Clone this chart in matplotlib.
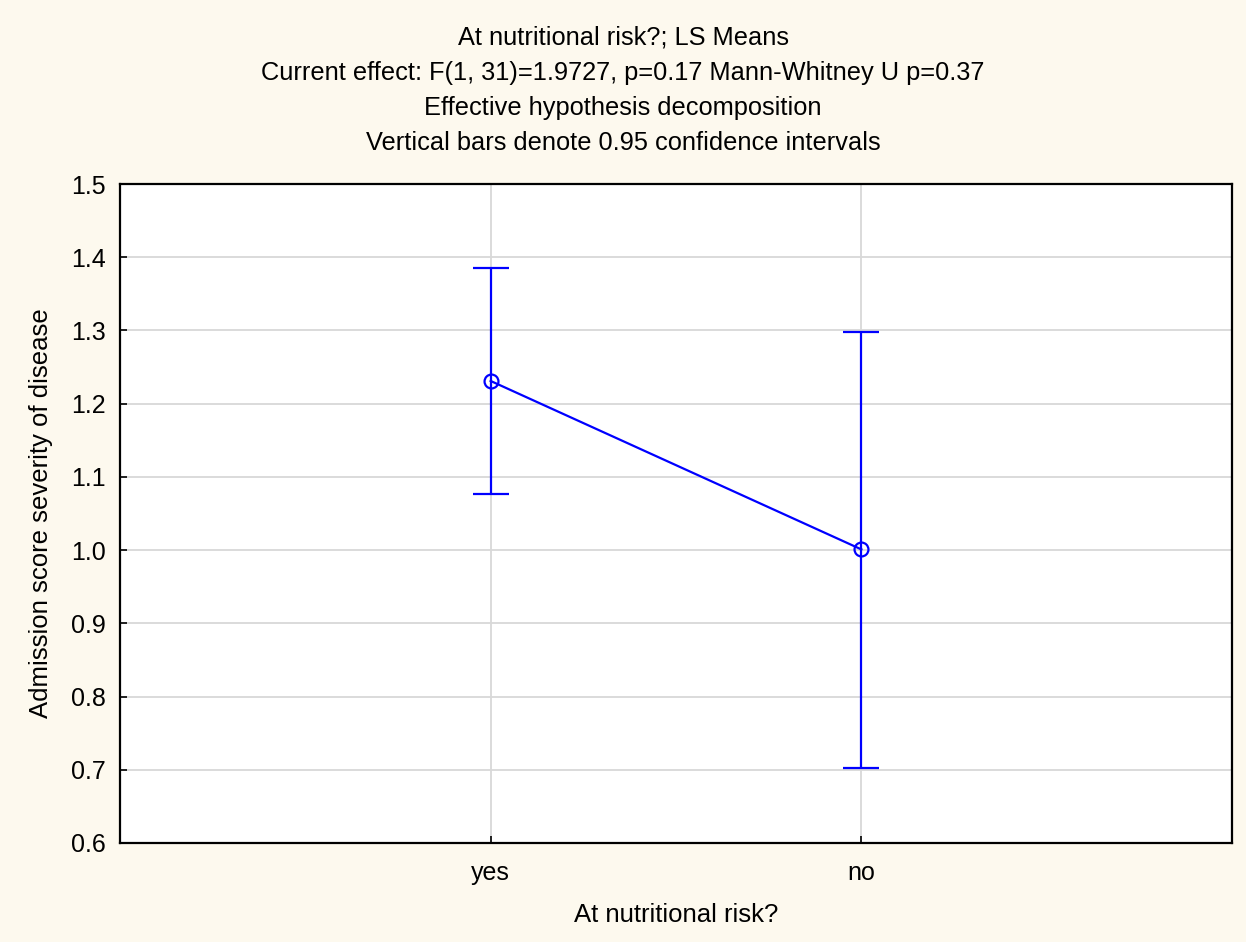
import numpy as np
import matplotlib.pyplot as plt

plt.rcParams['font.family'] = ['Liberation Sans', 'DejaVu Sans']

# Datos
groups = ['yes', 'no']
means = [1.231, 1.001]
ci_low = [1.077, 0.703]
ci_high = [1.385, 1.298]

title_lines = [
    "At nutritional risk?; LS Means",
    "Current effect: F(1, 31)=1.9727, p=0.17 Mann-Whitney U p=0.37",
    "Effective hypothesis decomposition",
    "Vertical bars denote 0.95 confidence intervals",
]

fig = plt.figure(figsize=(12.46, 9.42), dpi=100, facecolor='#fdf9ee')
ax = fig.add_axes([120 / 1246, 1 - 843 / 942, 1112 / 1246, 659 / 942])
ax.set_facecolor('white')

x = np.arange(len(groups))
m = np.array(means)
yerr = [m - np.array(ci_low), np.array(ci_high) - m]

ax.errorbar(x, m, yerr=yerr, color='blue', lw=1.6, elinewidth=1.6,
            capsize=13, capthick=1.6, marker='o', markersize=10,
            markerfacecolor='none', markeredgecolor='blue', markeredgewidth=1.6,
            zorder=3)

ax.set_xlim(-1, 2)
ax.set_ylim(0.6, 1.5)
ax.set_xticks(x)
ax.set_xticklabels(groups)
yt = np.arange(0.6, 1.51, 0.1)
ax.set_yticks(yt)
ax.set_yticklabels([f"{v:.1f}" for v in yt])
ax.grid(True, color='#d8d8d8', lw=1.3, zorder=0)
ax.set_axisbelow(True)
ax.tick_params(direction='in', length=5, width=1.2, labelsize=18, pad=10)
ax.tick_params(axis='x', pad=13)
for s in ax.spines.values():
    s.set_linewidth(1.6)
    s.set_color('black')

ax.set_xlabel("At nutritional risk?", fontsize=18.5, labelpad=13)
ax.set_ylabel("Admission score severity of disease", fontsize=18.5, labelpad=13)

for i, line in enumerate(title_lines):
    fig.text(0.5, 1 - (38 + i * 35) / 942, line, ha='center', va='center', fontsize=18.3)

fig.savefig('out.png', dpi=100, facecolor=fig.get_facecolor())
